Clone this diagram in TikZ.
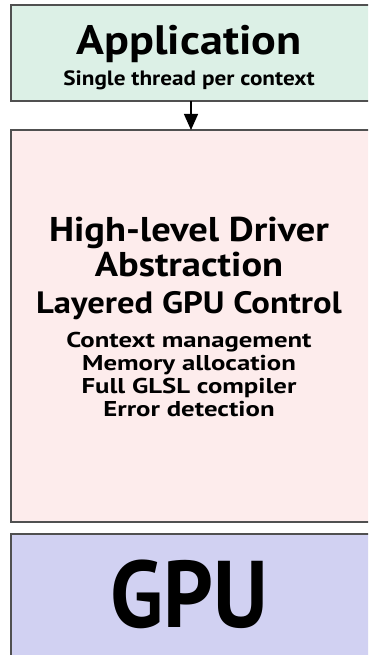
\documentclass[tikz,border=0pt]{standalone}
\usepackage{fontspec}
\setmainfont{PT Sans}[FakeStretch=1.12]
\newfontfamily\listfont{PT Sans}[FakeStretch=1.25]
\newfontfamily\chipfont{PT Sans}[FakeStretch=0.92]
\usetikzlibrary{arrows.meta}
\definecolor{appfill}{RGB}{220,240,230}
\definecolor{drvfill}{RGB}{253,236,236}
\definecolor{gpufill}{RGB}{209,209,242}
\definecolor{edge}{RGB}{80,80,80}
\tikzset{
  layerbox/.style={draw=edge, line width=1.3bp, minimum width=360bp, inner sep=0pt, outer sep=0pt},
  lbl/.style={anchor=base, inner sep=0pt, font=\bfseries\fontsize{#1}{#1}\selectfont},
  itemlbl/.style={anchor=base, inner sep=0pt, font=\listfont\bfseries\fontsize{21.5}{21.5}\selectfont},
}
\begin{document}
\begin{tikzpicture}[x=1bp, y=-1bp]
  \useasboundingbox (0,0) rectangle (368,655);
  \clip (0,0) rectangle (368,655);
  % layer boxes
  \node[layerbox, fill=appfill, minimum height=96bp]  (app) at (191,53)  {};
  \node[layerbox, fill=drvfill, minimum height=392bp] (drv) at (191,326) {};
  \node[layerbox, fill=gpufill, minimum height=140bp] (gpu) at (191,604) {};
  % call path from the application into the driver
  \draw[black, line width=1.3bp, -{Triangle[width=14bp,length=16bp]}] (app.south) -- (drv.north);
  % application layer
  \node[lbl=41.3] (t1) at (189,55) {Application};
  \node[lbl=20.8] (t2) at (189,86) {Single thread per context};
  % driver layer
  \node[lbl=34.5] (t3) at (189,241) {High-level Driver};
  \node[lbl=34.5] (t4) at (189,276) {Abstraction};
  \node[lbl=31] (t5) at (189,313) {Layered GPU Control};
  \node[itemlbl] (t6) at (189,347) {Context management};
  \node[itemlbl] (t7) at (189,370) {Memory allocation};
  \node[itemlbl] (t8) at (189,393) {Full GLSL compiler};
  \node[itemlbl] (t9) at (189,416) {Error detection};
  % hardware layer
  \node[anchor=base, inner sep=0pt, font=\chipfont\bfseries\fontsize{95}{95}\selectfont] (t10) at (189,627) {GPU};
\end{tikzpicture}
\end{document}
